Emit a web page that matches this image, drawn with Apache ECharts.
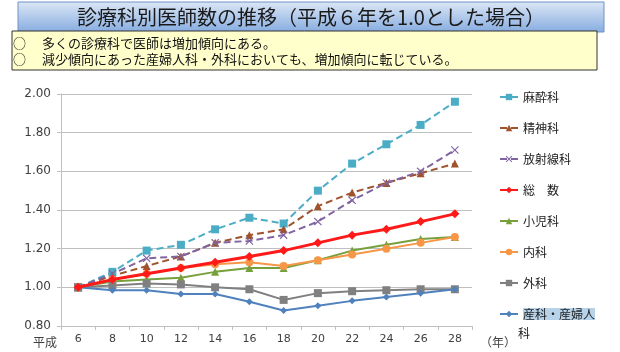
<!DOCTYPE html>
<html>
<head>
<meta charset="utf-8">
<script src="https://cdn.jsdelivr.net/npm/echarts@6/dist/echarts.min.js"></script>
<style>
  html, body { margin: 0; padding: 0; background: #fff; }
  #chart { width: 620px; height: 352px; }
</style>
</head>
<body>
<div id="chart"></div>
<script>
// years (平成)
var years = ['6', '8', '10', '12', '14', '16', '18', '20', '22', '24', '26', '28'];
var yTicks = [0.8, 1.0, 1.2, 1.4, 1.6, 1.8, 2.0];

var masui    = [1.00, 1.08, 1.19, 1.22, 1.30, 1.36, 1.33, 1.50, 1.64, 1.74, 1.84, 1.96];
var seishin  = [1.00, 1.06, 1.11, 1.16, 1.23, 1.27, 1.30, 1.42, 1.49, 1.54, 1.59, 1.64];
var hoshasen = [1.00, 1.07, 1.15, 1.16, 1.23, 1.24, 1.27, 1.34, 1.45, 1.54, 1.60, 1.71];
var sosu     = [1.00, 1.04, 1.07, 1.10, 1.13, 1.16, 1.19, 1.23, 1.27, 1.30, 1.34, 1.38];
var shoni    = [1.00, 1.03, 1.04, 1.05, 1.08, 1.10, 1.10, 1.14, 1.19, 1.22, 1.25, 1.26];
var naika    = [1.00, 1.04, 1.07, 1.10, 1.12, 1.13, 1.11, 1.14, 1.17, 1.20, 1.23, 1.26];
var geka     = [1.00, 1.01, 1.02, 1.015, 1.00, 0.99, 0.935, 0.97, 0.98, 0.985, 0.99, 0.99];
var sanka    = [1.00, 0.985, 0.985, 0.965, 0.965, 0.925, 0.88, 0.905, 0.93, 0.95, 0.97, 0.99];

var FONT = '"Noto Sans CJK JP", sans-serif';
var xMark = 'path://M0,1L1,0L5,4L9,0L10,1L6,5L10,9L9,10L5,6L1,10L0,9L4,5Z';

function line(name, data, color, symbol, size, dashed, width) {
  return {
    name: name, type: 'line', data: data,
    symbol: symbol, symbolSize: size,
    lineStyle: { color: color, width: width || 2, type: dashed ? [7, 4] : 'solid' },
    itemStyle: { color: color },
    z: name === '総　数' ? 5 : 3
  };
}

var chart = echarts.init(document.getElementById('chart'));
chart.setOption({
  animation: false,
  textStyle: { fontFamily: FONT },
  grid: { left: 61, right: 148, top: 94, bottom: 26 },
  xAxis: {
    type: 'category', data: years, boundaryGap: true,
    axisLine: { lineStyle: { color: '#bfbfbf' } },
    axisTick: { show: true, alignWithLabel: false, length: 4, lineStyle: { color: '#bfbfbf' } },
    axisLabel: { color: '#404040', fontSize: 11, margin: 8, fontFamily: 'Verdana, "DejaVu Sans", sans-serif' }
  },
  yAxis: {
    type: 'value', min: 0.8, max: 2.0, interval: 0.2,
    axisLine: { show: true, lineStyle: { color: '#bfbfbf' } },
    axisTick: { show: true, length: 4, lineStyle: { color: '#bfbfbf' } },
    splitLine: { lineStyle: { color: '#bfbfbf' } },
    axisLabel: {
      color: '#404040', fontSize: 12, margin: 10,
      fontFamily: 'Verdana, "DejaVu Sans", sans-serif',
      formatter: function (v) { return v.toFixed(2); }
    }
  },
  legend: {
    orient: 'vertical', left: 494, top: 83, height: 265, padding: 5,
    itemWidth: 18, itemHeight: 8, itemGap: 13,
    textStyle: {
      fontSize: 12, color: '#222', fontFamily: FONT, lineHeight: 18,
      rich: { hl: { backgroundColor: '#b7d3ea', fontSize: 12, lineHeight: 18, fontFamily: FONT } }
    },
    formatter: function (name) {
      if (name === '産科・産婦人科') return '{hl|産科・産婦人}';
      return name;
    }
  },
  graphic: [
    {
      type: 'rect', shape: { x: 18, y: 2, width: 586, height: 30 },
      style: {
        fill: new echarts.graphic.LinearGradient(0, 0, 0, 1, [
          { offset: 0, color: '#dce7f5' }, { offset: 1, color: '#86ace0' }
        ]),
        stroke: '#6f93c6', lineWidth: 1
      }
    },
    {
      type: 'text', x: 311, y: 17,
      style: { text: '診療科別医師数の推移（平成６年を1.0とした場合）', font: '20px ' + FONT, fill: '#1a1a1a', align: 'center', verticalAlign: 'middle' }
    },
    {
      type: 'rect', shape: { x: 12, y: 31, width: 585, height: 39 },
      style: { fill: '#ffffcc', stroke: '#333', lineWidth: 1 }
    },
    {
      type: 'text', x: 13, y: 43,
      style: { text: '○　 多くの診療科で医師は増加傾向にある。', font: '13px ' + FONT, fill: '#111', verticalAlign: 'middle' }
    },
    {
      type: 'text', x: 13, y: 59,
      style: { text: '○　 減少傾向にあった産婦人科・外科においても、増加傾向に転じている。', font: '13px ' + FONT, fill: '#111', verticalAlign: 'middle' }
    },
    {
      type: 'text', x: 33, y: 342,
      style: { text: '平成', font: '12px ' + FONT, fill: '#404040', verticalAlign: 'middle' }
    },
    {
      type: 'text', x: 480, y: 342,
      style: { text: '（年）', font: '12px ' + FONT, fill: '#404040', verticalAlign: 'middle' }
    },
    {
      type: 'text', x: 518, y: 333,
      style: { text: '科', font: '12px ' + FONT, fill: '#222', verticalAlign: 'middle' }
    }
  ],
  series: [
    line('麻酔科', masui, '#4bacc6', 'rect', 8, true),
    line('精神科', seishin, '#a0522d', 'triangle', 8, true),
    line('放射線科', hoshasen, '#8064a2', xMark, 8, true),
    line('総　数', sosu, '#ff1a1a', 'diamond', 9, false, 3),
    line('小児科', shoni, '#77a03c', 'triangle', 8, false),
    line('内科', naika, '#f79646', 'circle', 8, false),
    line('外科', geka, '#808080', 'rect', 8, false),
    line('産科・産婦人科', sanka, '#4f81bd', 'diamond', 7, false)
  ]
});
</script>
</body>
</html>
